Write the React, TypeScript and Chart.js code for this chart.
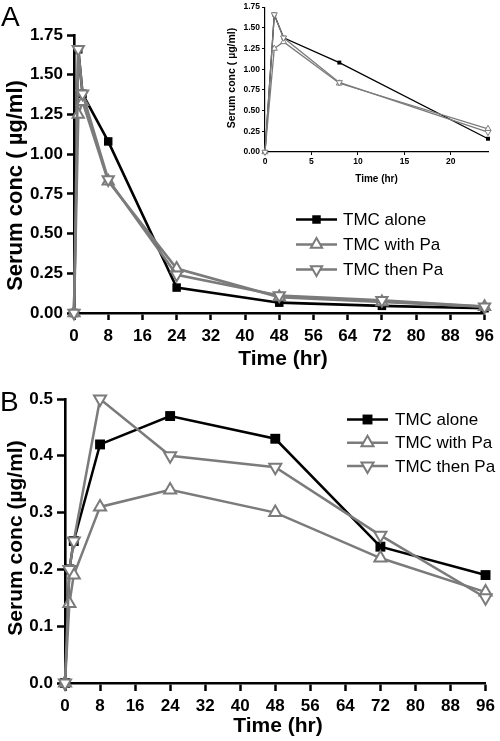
import React, { useEffect, useRef } from 'react';
import { Chart, registerables } from 'chart.js';
import { drawPoint } from 'chart.js/helpers';

Chart.register(...registerables);

// ---------- data ----------
const timeHr = [0, 1, 2, 8, 24, 48, 72, 96];
const seriesNames = ['TMC alone', 'TMC with Pa', 'TMC then Pa'];

// Panel A (single dose)
const aTmcAlone = [0, 1.66, 1.38, 1.08, 0.16, 0.065, 0.045, 0.03];
const aTmcWithPa = [0, 1.25, 1.33, 0.83, 0.28, 0.1, 0.07, 0.04];
const aTmcThenPa = [0, 1.66, 1.38, 0.84, 0.24, 0.11, 0.08, 0.04];

// Panel B
const bTmcAlone = [0, 0.2, 0.25, 0.42, 0.47, 0.43, 0.24, 0.19];
const bTmcWithPa = [0, 0.14, 0.19, 0.31, 0.34, 0.3, 0.22, 0.16];
const bTmcThenPa = [0, 0.2, 0.25, 0.5, 0.4, 0.38, 0.26, 0.15];

// ticks
const mainXTicks = [0, 8, 16, 24, 32, 40, 48, 56, 64, 72, 80, 88, 96];
const aYTicks = [0, 0.25, 0.5, 0.75, 1.0, 1.25, 1.5, 1.75];
const bYTicks = [0, 0.1, 0.2, 0.3, 0.4, 0.5];
const insetXTicks = [0, 5, 10, 15, 20];
const insetXMax = 24;

// ---------- styles ----------
const FONT = '"Liberation Sans", Arial, Helvetica, sans-serif';
const GRAY = '#7b7b7b';
const seriesColors = ['#000000', GRAY, GRAY];
const seriesFills = ['#000000', '#ffffff', '#ffffff'];
const seriesPointStyles = ['rect', 'triangle', 'triangle'];
const seriesRotations = [0, 0, 180];
const seriesOrder = [3, 2, 1];

type Txt = { text: string; x: number; y: number; font: string; rotate?: number; align?: CanvasTextAlign; baseline?: CanvasTextBaseline };
type Leg = { x0: number; x1: number; tx: number; y: number; dy: number; font: string; radius: number[] };

function makeAnnotate(texts: Txt[], legend?: Leg) {
  return {
    id: 'annotate',
    afterDraw(chart: any) {
      const ctx = chart.ctx as CanvasRenderingContext2D;
      texts.forEach((t) => {
        ctx.save();
        ctx.font = t.font;
        ctx.fillStyle = '#000';
        ctx.textAlign = t.align || 'center';
        ctx.textBaseline = t.baseline || 'alphabetic';
        ctx.translate(t.x, t.y);
        if (t.rotate) ctx.rotate(t.rotate);
        ctx.fillText(t.text, 0, 0);
        ctx.restore();
      });
      if (legend) {
        chart.data.datasets.forEach((ds: any, i: number) => {
          const y = legend.y + i * legend.dy;
          ctx.save();
          ctx.strokeStyle = ds.borderColor;
          ctx.lineWidth = ds.borderWidth;
          ctx.beginPath();
          ctx.moveTo(legend.x0, y);
          ctx.lineTo(legend.x1, y);
          ctx.stroke();
          ctx.fillStyle = ds.pointBackgroundColor;
          ctx.strokeStyle = ds.pointBorderColor;
          ctx.lineWidth = ds.pointBorderWidth;
          drawPoint(ctx, { pointStyle: ds.pointStyle, rotation: ds.pointRotation, radius: legend.radius[i], borderWidth: ds.pointBorderWidth } as any, (legend.x0 + legend.x1) / 2, y);
          ctx.fillStyle = '#000';
          ctx.font = legend.font;
          ctx.textAlign = 'left';
          ctx.textBaseline = 'middle';
          ctx.fillText(ds.label, legend.tx, y + 1);
          ctx.restore();
        });
      }
    },
  };
}

function makeDatasets(values: number[][], maxT: number, lineWidth: number, radius: number[], pbw: number) {
  return seriesNames.map((name, i) => ({
    label: name,
    data: timeHr.map((t, j) => ({ x: t, y: values[i][j] })).filter((p) => p.x <= maxT),
    borderColor: seriesColors[i],
    borderWidth: lineWidth,
    backgroundColor: seriesFills[i],
    pointBackgroundColor: seriesFills[i],
    pointBorderColor: seriesColors[i],
    pointBorderWidth: i === 0 ? 0 : pbw,
    pointStyle: seriesPointStyles[i],
    pointRotation: seriesRotations[i],
    pointRadius: radius[i],
    order: seriesOrder[i],
    tension: 0,
    fill: false,
    clip: false as any,
  }));
}

function axisOpts(o: {
  min: number; max: number; ticks: number[]; fit: number; horiz: boolean; fontSize: number;
  tickLen: number; tickW: number; borderW: number; pad: number; fmt: (v: number) => string;
}) {
  return {
    type: 'linear' as const,
    min: o.min,
    max: o.max,
    afterFit: (s: any) => {
      if (o.horiz) s.height = o.fit;
      else s.width = o.fit;
    },
    afterBuildTicks: (s: any) => {
      s.ticks = o.ticks.map((v) => ({ value: v }));
    },
    grid: { display: true, drawOnChartArea: false, drawTicks: true, tickLength: o.tickLen, tickWidth: o.tickW, tickColor: '#000', color: '#000' },
    border: { display: true, color: '#000', width: o.borderW },
    ticks: {
      font: { family: FONT, size: o.fontSize, weight: 'bold' as const },
      color: '#000',
      padding: o.pad,
      autoSkip: false,
      maxRotation: 0,
      minRotation: 0,
      callback: (v: any) => o.fmt(Number(v)),
    },
  };
}

const baseOptions = (padding: any) => ({
  responsive: false,
  maintainAspectRatio: false,
  animation: false as const,
  devicePixelRatio: 1,
  events: [] as any[],
  layout: { autoPadding: false, padding },
  plugins: { legend: { display: false }, tooltip: { enabled: false } },
});

export default function App() {
  const refA = useRef<HTMLCanvasElement>(null);
  const refInset = useRef<HTMLCanvasElement>(null);
  const refB = useRef<HTMLCanvasElement>(null);

  useEffect(() => {
    const charts: Chart[] = [];

    // ---- Panel A main ----
    charts.push(
      new Chart(refA.current!, {
        type: 'line',
        data: { datasets: makeDatasets([aTmcAlone, aTmcWithPa, aTmcThenPa], 96, 2.6, [6, 6.5, 6.5], 2) as any },
        options: {
          ...baseOptions({ left: 0, top: 35, right: 8, bottom: 0 }),
          scales: {
            x: axisOpts({ min: 0, max: 96, ticks: mainXTicks, fit: 57, horiz: true, fontSize: 17, tickLen: 7, tickW: 2.5, borderW: 2.6, pad: 6, fmt: (v) => String(v) }),
            y: axisOpts({ min: 0, max: 1.75, ticks: aYTicks, fit: 74, horiz: false, fontSize: 17, tickLen: 7, tickW: 2.5, borderW: 2.6, pad: 4, fmt: (v) => v.toFixed(2) }),
          },
        } as any,
        plugins: [
          makeAnnotate(
            [
              { text: 'A', x: 1, y: 25.5, font: `28px ${FONT}`, align: 'left' },
              { text: 'Serum conc ( \u00b5g/ml)', x: 16, y: 185.5, font: `bold 22px ${FONT}`, rotate: -Math.PI / 2, baseline: 'middle' },
              { text: 'Time (hr)', x: 283, y: 365, font: `bold 21px ${FONT}` },
            ],
            { x0: 296, x1: 337, tx: 343, y: 219.5, dy: 25, font: `17px ${FONT}`, radius: [6, 6.5, 6.5] }
          ),
        ],
      })
    );

    // ---- Panel A inset ----
    charts.push(
      new Chart(refInset.current!, {
        type: 'line',
        data: { datasets: makeDatasets([aTmcAlone, aTmcWithPa, aTmcThenPa], insetXMax, 1.3, [2.8, 3.5, 3.5], 1) as any },
        options: {
          ...baseOptions({ left: 0, top: 4, right: 12, bottom: 0 }),
          scales: {
            x: axisOpts({ min: 0, max: insetXMax, ticks: insetXTicks, fit: 40, horiz: true, fontSize: 8.5, tickLen: 3, tickW: 1, borderW: 1.2, pad: 2, fmt: (v) => String(v) }),
            y: axisOpts({ min: 0, max: 1.75, ticks: aYTicks, fit: 45, horiz: false, fontSize: 8.5, tickLen: 3, tickW: 1, borderW: 1.2, pad: 2, fmt: (v) => v.toFixed(2) }),
          },
        } as any,
        plugins: [
          makeAnnotate([
            { text: 'Serum conc ( \u00b5g/ml)', x: 11.7, y: 78, font: `bold 10.5px ${FONT}`, rotate: -Math.PI / 2, baseline: 'middle' },
            { text: 'Time (hr)', x: 156.5, y: 181.5, font: `bold 10px ${FONT}` },
          ]),
        ],
      })
    );

    // ---- Panel B ----
    charts.push(
      new Chart(refB.current!, {
        type: 'line',
        data: { datasets: makeDatasets([bTmcAlone, bTmcWithPa, bTmcThenPa], 96, 2.5, [7, 7, 7], 2) as any },
        options: {
          ...baseOptions({ left: 0, top: 29, right: 9, bottom: 0 }),
          scales: {
            x: axisOpts({ min: 0, max: 96, ticks: mainXTicks, fit: 58, horiz: true, fontSize: 17, tickLen: 8, tickW: 2.5, borderW: 2.6, pad: 5, fmt: (v) => String(v) }),
            y: axisOpts({ min: 0, max: 0.5, ticks: bYTicks, fit: 65, horiz: false, fontSize: 17, tickLen: 8, tickW: 2.5, borderW: 2.6, pad: 4, fmt: (v) => v.toFixed(1) }),
          },
        } as any,
        plugins: [
          makeAnnotate(
            [
              { text: 'B', x: 0, y: 41, font: `28px ${FONT}`, align: 'left' },
              { text: 'Serum conc (\u00b5g/ml)', x: 16, y: 168, font: `bold 21px ${FONT}`, rotate: -Math.PI / 2, baseline: 'middle' },
              { text: 'Time (hr)', x: 278, y: 362, font: `bold 21px ${FONT}` },
            ],
            { x0: 347, x1: 388, tx: 395, y: 49.5, dy: 23.3, font: `17px ${FONT}`, radius: [7, 7, 7] }
          ),
        ],
      })
    );

    return () => charts.forEach((c) => c.destroy());
  }, []);

  const abs = (left: number, top: number): React.CSSProperties => ({ position: 'absolute', left, top, display: 'block' });

  return (
    <div style={{ position: 'absolute', left: 0, top: 0, width: 500, height: 741, background: '#fff', overflow: 'hidden' }}>
      <canvas ref={refA} width={500} height={370} style={abs(0, 0)} />
      <canvas ref={refInset} width={280} height={192} style={abs(220, 0)} />
      <canvas ref={refB} width={500} height={371} style={abs(0, 370)} />
    </div>
  );
}
